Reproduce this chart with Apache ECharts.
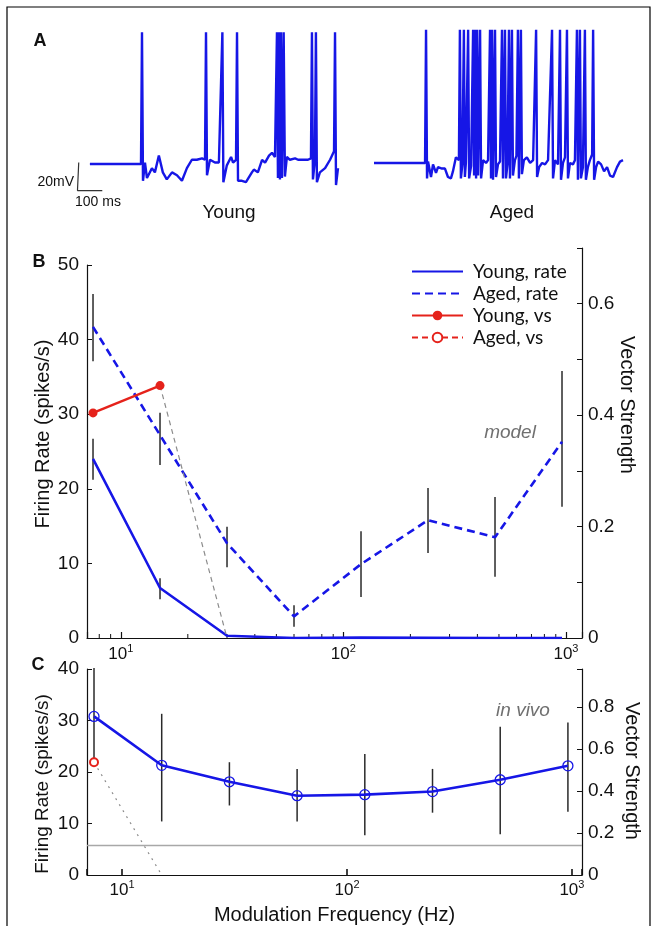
<!DOCTYPE html>
<html>
<head>
<meta charset="utf-8">
<script src="https://cdn.jsdelivr.net/npm/echarts@6.0.0/dist/echarts.min.js"></script>
<style>
  html, body { margin: 0; padding: 0; background: #fff; }
  #chart { width: 658px; height: 926px; }
</style>
</head>
<body>
<div id="chart"></div>
<script>
// ---- panel A: membrane potential traces, [time ms, mV]
var youngTrace = [
  [0,-65],[206,-65],[210,29],[214,-77],[222,-64],[230,-75],[250,-68],[262,-71],[278,-59],[294,-71],[310,-76],
  [331,-71],[351,-73],[371,-77],[391,-68],[411,-62],[431,-62],[452,-61],[464,-62],[468,29],[472,-73],[484,-62],
  [504,-64],[520,-64],[528,-65],[534,29],[538,-78],[552,-66],[569,-60],[577,-64],[589,-62],[593,29],[597,-77],
  [613,-77],[629,-78],[653,-71],[661,-69],[677,-71],[694,-62],[706,-64],[722,-59],[734,-57],[746,-60],[754,29],
  [758,-75],[762,29],[766,-76],[770,29],[774,-75],[781,29],[786,-74],[794,-60],[806,-62],[827,-61],[839,-62],
  [859,-62],[879,-62],[891,-61],[895,29],[899,-76],[907,-62],[911,29],[915,-78],[927,-71],[948,-68],[968,-62],
  [984,-56],[988,29],[992,-80],[1000,-68]
];
var agedTrace = [
  [0,-65],[205,-65],[209,30],[213,-76],[217,-64],[229,-75],[237,-66],[249,-72],[257,-68],[273,-69],[285,-69],
  [297,-75],[309,-76],[317,-71],[329,-61],[341,-63],[345,30],[349,-76],[355,-66],[361,30],[365,-75],[369,-65],
  [378,30],[382,-76],[390,-67],[398,30],[402,-74],[406,30],[410,-76],[414,30],[418,-74],[426,30],[430,-76],
  [438,-63],[450,-65],[458,-63],[466,30],[470,-76],[474,30],[478,-77],[486,30],[490,-75],[498,-66],[506,-64],
  [514,30],[518,-76],[526,30],[530,-76],[536,-66],[542,30],[546,-76],[554,30],[558,-74],[566,-63],[572,-60],
  [578,30],[582,-76],[590,30],[594,-73],[602,-63],[614,-61],[627,-65],[639,-63],[651,30],[655,-75],[663,-68],
  [675,-65],[687,-66],[699,-63],[707,-64],[715,30],[719,-76],[727,-63],[739,-66],[747,30],[751,-77],[759,-65],
  [767,-61],[775,30],[779,-76],[787,-65],[799,-66],[807,-63],[815,30],[819,-77],[827,30],[831,-76],[839,-68],
  [847,30],[851,-77],[859,-68],[867,-63],[876,-59],[880,30],[884,-77],[892,-68],[900,-64],[912,-66],[924,-71],
  [936,-68],[948,-74],[960,-75],[976,-68],[988,-64],[1000,-63]
];
var scaleBar = [[-45,-64],[-50,-64],[-50,-84],[50,-84]]; // 20 mV / 100 ms

// ---- panel B: model
var freqs = [7.5, 15, 30, 60, 120, 240, 480, 960];
var minorFreqs = [8, 9, 20, 30, 40, 50, 60, 70, 80, 90, 200, 300, 400, 500, 600, 700, 800, 900];
var youngRate   = [24.0, 6.7, 0.3, 0, 0.05, 0.02, 0, 0];
var youngRateLo = [21.2, 5.2, 0.3, 0, 0.05, 0.02, 0, 0];
var youngRateHi = [26.7, 8.0, 0.3, 0, 0.05, 0.02, 0, 0];
var agedRate    = [41.7, 27.2, 12.7, 2.9, 9.9, 15.8, 13.5, 26.3];
var agedRateLo  = [37.1, 23.2, 9.5, 1.5, 5.5, 11.4, 8.2, 17.6];
var agedRateHi  = [46.1, 30.2, 14.9, 4.4, 14.3, 20.1, 18.9, 35.8];
var youngVS     = [0.404, 0.453];
var youngVSDrop = [[15, 0.453], [30, 0]];

// ---- panel C: in vivo
var vivoRate = [30.8, 21.3, 18.1, 15.4, 15.6, 16.2, 18.5, 21.2];
var vivoLo   = [21.4, 10.4, 13.5, 10.4, 7.7, 12.1, 7.9, 12.3];
var vivoHi   = [40.2, 31.3, 21.9, 20.6, 23.5, 20.6, 28.8, 29.6];
var agedVivoVS = [0.536];
var agedVivoDrop = [[7.5, 0.536], [15, 0]];
var vsThreshold = 5.8; // grey reference line (left axis units)

var FONT = 'Liberation Sans';
var BLUE = '#1616e6';
var RED = '#e5221b';
var INK = '#111';

function pairs(xs, ys){
  var out = [];
  for (var i = 0; i < ys.length; i++) out.push([xs[i], ys[i]]);
  return out;
}
function triples(xs, lo, hi){
  var out = [];
  for (var i = 0; i < xs.length; i++) out.push([xs[i], lo[i], hi[i]]);
  return out;
}
function logLabel(v){
  var e = Math.log10(v), r = Math.round(e);
  if (Math.abs(e - r) > 1e-6) return '';
  return '{b|10}{s|' + r + '}';
}
var logRich = {
  b: { fontFamily: FONT, fontSize: 17, color: INK, lineHeight: 22 },
  s: { fontFamily: FONT, fontSize: 11, color: INK, lineHeight: 12, verticalAlign: 'top' }
};
function errBarItem(params, api){
  var lo = api.coord([api.value(0), api.value(1)]);
  var hi = api.coord([api.value(0), api.value(2)]);
  return { type: 'line', shape: { x1: lo[0], y1: lo[1], x2: hi[0], y2: hi[1] },
           style: { stroke: '#2a2a2a', lineWidth: 1.5 } };
}
function minorTickItem(params, api){
  var p = api.coord([api.value(0), api.value(1)]);
  return { type: 'line', shape: { x1: p[0], y1: p[1], x2: p[0], y2: p[1] - 4 },
           style: { stroke: INK, lineWidth: 1 } };
}

var axisLineStyle = { lineStyle: { color: INK, width: 1.2 } };
var tickLabel = { fontFamily: FONT, fontSize: 19, color: INK };
var noSymbol = { color: 'rgba(0,0,0,0)', borderWidth: 0, opacity: 0 };

var chart = echarts.init(document.getElementById('chart'));
var option = {
  animation: false,
  textStyle: { fontFamily: FONT },
  legend: {
    data: [
      { name: 'Young, rate', itemStyle: noSymbol },
      { name: 'Aged, rate', itemStyle: noSymbol },
      'Young, vs',
      'Aged, vs'
    ],
    orient: 'vertical', left: 406, top: 256,
    itemWidth: 51, itemHeight: 12, itemGap: 1,
    selectedMode: false,
    textStyle: { fontFamily: 'Lato', fontSize: 19, lineHeight: 21, color: INK, padding: [0, 0, 0, 5] }
  },
  grid: [
    { left: 75, top: 28, width: 263, height: 164 },
    { left: 374, top: 27, width: 249, height: 164 },
    { left: 87, top: 265, width: 495, height: 373 },
    { left: 87, top: 248, width: 495, height: 390 },
    { left: 87, top: 669, width: 495, height: 208 }
  ],
  xAxis: [
    { gridIndex: 0, type: 'value', min: -60, max: 1000, show: false },
    { gridIndex: 1, type: 'value', min: 0, max: 1000, show: false },
    { gridIndex: 2, type: 'log', min: 7.0475, max: 1180.6,
      axisLine: axisLineStyle, splitLine: { show: false },
      axisTick: { inside: true, length: 6, lineStyle: { color: INK, width: 1.2 } },
      axisLabel: { margin: 5, formatter: logLabel, rich: logRich } },
    { gridIndex: 3, type: 'log', min: 7.0475, max: 1180.6, show: false },
    { gridIndex: 4, type: 'log', min: 6.981, max: 1108.9,
      axisLine: axisLineStyle, splitLine: { show: false },
      axisTick: { inside: true, length: 6, lineStyle: { color: INK, width: 1.6 } },
      axisLabel: { margin: 4, formatter: logLabel, rich: logRich },
      name: 'Modulation Frequency (Hz)', nameLocation: 'middle', nameGap: 30,
      nameTextStyle: { fontFamily: FONT, fontSize: 20, color: INK } }
  ],
  yAxis: [
    { gridIndex: 0, type: 'value', min: -85, max: 32, show: false },
    { gridIndex: 1, type: 'value', min: -85, max: 32, show: false },
    { gridIndex: 2, type: 'value', min: 0, max: 50, interval: 10, position: 'left',
      axisLine: { show: true, lineStyle: { color: INK, width: 1.2 } }, splitLine: { show: false },
      axisTick: { inside: true, length: 5, lineStyle: { color: INK } },
      axisLabel: Object.assign({ margin: 8 }, tickLabel) },
    { gridIndex: 3, type: 'value', min: 0, max: 0.7, interval: 0.1, position: 'right',
      axisLine: { show: true, lineStyle: { color: INK, width: 1.2 } }, splitLine: { show: false },
      axisTick: { inside: true, length: 5, lineStyle: { color: INK } },
      axisLabel: Object.assign({ margin: 6, formatter: function(v){
        var k = Math.round(v * 10); return k % 2 === 0 ? String(k / 10) : ''; } }, tickLabel) },
    { gridIndex: 4, type: 'value', min: 0, max: 40, interval: 10, position: 'left',
      axisLine: { show: true, lineStyle: { color: INK, width: 1.2 } }, splitLine: { show: false },
      axisTick: { inside: true, length: 5, lineStyle: { color: INK } },
      axisLabel: Object.assign({ margin: 8 }, tickLabel) },
    { gridIndex: 4, type: 'value', min: 0, max: 0.98, interval: 0.2, position: 'right',
      axisLine: { show: true, lineStyle: { color: INK, width: 1.2 } }, splitLine: { show: false },
      axisTick: { inside: true, length: 5, lineStyle: { color: INK } },
      axisLabel: Object.assign({ margin: 6, formatter: function(v){
        return Math.abs(v * 5 - Math.round(v * 5)) > 1e-6 ? '' : String(Math.round(v * 5) / 5); } }, tickLabel) }
  ],
  series: [
    // A
    { type: 'line', xAxisIndex: 0, yAxisIndex: 0, data: youngTrace, symbol: 'none',
      lineStyle: { color: BLUE, width: 2.4 } },
    { type: 'line', xAxisIndex: 1, yAxisIndex: 1, data: agedTrace, symbol: 'none',
      lineStyle: { color: BLUE, width: 2.4 } },
    { type: 'line', xAxisIndex: 0, yAxisIndex: 0, data: scaleBar, symbol: 'none',
      lineStyle: { color: '#333', width: 1.2 } },
    // B
    { name: 'Young, rate', type: 'line', xAxisIndex: 2, yAxisIndex: 2, data: pairs(freqs, youngRate),
      symbol: 'none', color: BLUE, lineStyle: { color: BLUE, width: 2.6 } },
    { name: 'Aged, rate', type: 'line', xAxisIndex: 2, yAxisIndex: 2, data: pairs(freqs, agedRate),
      symbol: 'none', color: BLUE, lineStyle: { color: BLUE, width: 2.6, type: [8, 5] } },
    { type: 'custom', xAxisIndex: 2, yAxisIndex: 2, renderItem: errBarItem, encode: { x: 0, y: [1, 2] },
      data: triples(freqs, youngRateLo, youngRateHi).concat(triples(freqs, agedRateLo, agedRateHi)), z: 3 },
    { type: 'custom', xAxisIndex: 2, yAxisIndex: 2, renderItem: minorTickItem, encode: { x: 0, y: 1 },
      data: minorFreqs.map(function(f){ return [f, 0]; }), z: 3 },
    { name: 'Young, vs', type: 'line', xAxisIndex: 3, yAxisIndex: 3, data: pairs(freqs, youngVS),
      symbol: 'circle', symbolSize: 9, color: RED, itemStyle: { color: RED },
      lineStyle: { color: RED, width: 2.4 }, z: 4 },
    { type: 'line', xAxisIndex: 3, yAxisIndex: 3, data: youngVSDrop, symbol: 'none',
      lineStyle: { color: '#8c8c8c', width: 1.2, type: [5, 4] } },
    // C
    { name: 'in vivo rate', type: 'line', xAxisIndex: 4, yAxisIndex: 4, data: pairs(freqs, vivoRate),
      symbol: 'circle', symbolSize: 10, color: BLUE,
      itemStyle: { color: 'rgba(0,0,0,0)', borderColor: BLUE, borderWidth: 1.3 },
      lineStyle: { color: BLUE, width: 2.6 },
      markLine: { silent: true, symbol: 'none', label: { show: false },
        lineStyle: { color: '#a8a8a8', width: 1.3, type: 'solid' },
        data: [{ yAxis: vsThreshold }] } },
    { type: 'custom', xAxisIndex: 4, yAxisIndex: 4, renderItem: errBarItem, encode: { x: 0, y: [1, 2] },
      data: triples(freqs, vivoLo, vivoHi), z: 3, clip: false },
    { type: 'line', xAxisIndex: 4, yAxisIndex: 5, data: agedVivoDrop, symbol: 'none',
      lineStyle: { color: '#8c8c8c', width: 1.2, type: [2, 5] } },
    { name: 'Aged, vs', type: 'line', xAxisIndex: 4, yAxisIndex: 5, data: pairs(freqs, agedVivoVS),
      symbol: 'emptyCircle', symbolSize: 8, color: RED,
      itemStyle: { color: RED, borderColor: RED, borderWidth: 1.2 },
      lineStyle: { color: RED, width: 2.4, type: [6, 4] }, z: 4 }
  ],
  graphic: [
    { type: 'rect', shape: { x: 7, y: 7, width: 643, height: 940 }, silent: true,
      style: { fill: 'none', stroke: '#000', lineWidth: 1.2 } },
    { type: 'text', x: 40, y: 41, style: { text: 'A', fontFamily: FONT, fontSize: 18, fontWeight: 'bold', fill: INK, align: 'center', verticalAlign: 'middle' } },
    { type: 'text', x: 39, y: 262, style: { text: 'B', fontFamily: FONT, fontSize: 18, fontWeight: 'bold', fill: INK, align: 'center', verticalAlign: 'middle' } },
    { type: 'text', x: 38, y: 665, style: { text: 'C', fontFamily: FONT, fontSize: 18, fontWeight: 'bold', fill: INK, align: 'center', verticalAlign: 'middle' } },
    { type: 'text', x: 74, y: 182, style: { text: '20mV', fontFamily: FONT, fontSize: 14, fill: INK, align: 'right', verticalAlign: 'middle' } },
    { type: 'text', x: 98, y: 202, style: { text: '100 ms', fontFamily: FONT, fontSize: 14, fill: INK, align: 'center', verticalAlign: 'middle' } },
    { type: 'text', x: 229, y: 213, style: { text: 'Young', fontFamily: FONT, fontSize: 19, fill: INK, align: 'center', verticalAlign: 'middle' } },
    { type: 'text', x: 512, y: 213, style: { text: 'Aged', fontFamily: FONT, fontSize: 19, fill: INK, align: 'center', verticalAlign: 'middle' } },
    { type: 'text', x: 510, y: 433, style: { text: 'model', fontFamily: FONT, fontSize: 19, fontStyle: 'italic', fill: '#707070', align: 'center', verticalAlign: 'middle' } },
    { type: 'text', x: 523, y: 711, style: { text: 'in vivo', fontFamily: FONT, fontSize: 19, fontStyle: 'italic', fill: '#707070', align: 'center', verticalAlign: 'middle' } },
    { type: 'text', x: 43, y: 434, rotation: Math.PI / 2, style: { text: 'Firing Rate (spikes/s)', fontFamily: FONT, fontSize: 20, fill: INK, align: 'center', verticalAlign: 'middle' } },
    { type: 'text', x: 627, y: 405, rotation: -Math.PI / 2, style: { text: 'Vector Strength', fontFamily: FONT, fontSize: 20, fill: INK, align: 'center', verticalAlign: 'middle' } },
    { type: 'text', x: 43, y: 784, rotation: Math.PI / 2, style: { text: 'Firing Rate (spikes/s)', fontFamily: FONT, fontSize: 19, fill: INK, align: 'center', verticalAlign: 'middle' } },
    { type: 'text', x: 632, y: 771, rotation: -Math.PI / 2, style: { text: 'Vector Strength', fontFamily: FONT, fontSize: 20, fill: INK, align: 'center', verticalAlign: 'middle' } }
  ]
};
chart.setOption(option);
</script>
</body>
</html>
